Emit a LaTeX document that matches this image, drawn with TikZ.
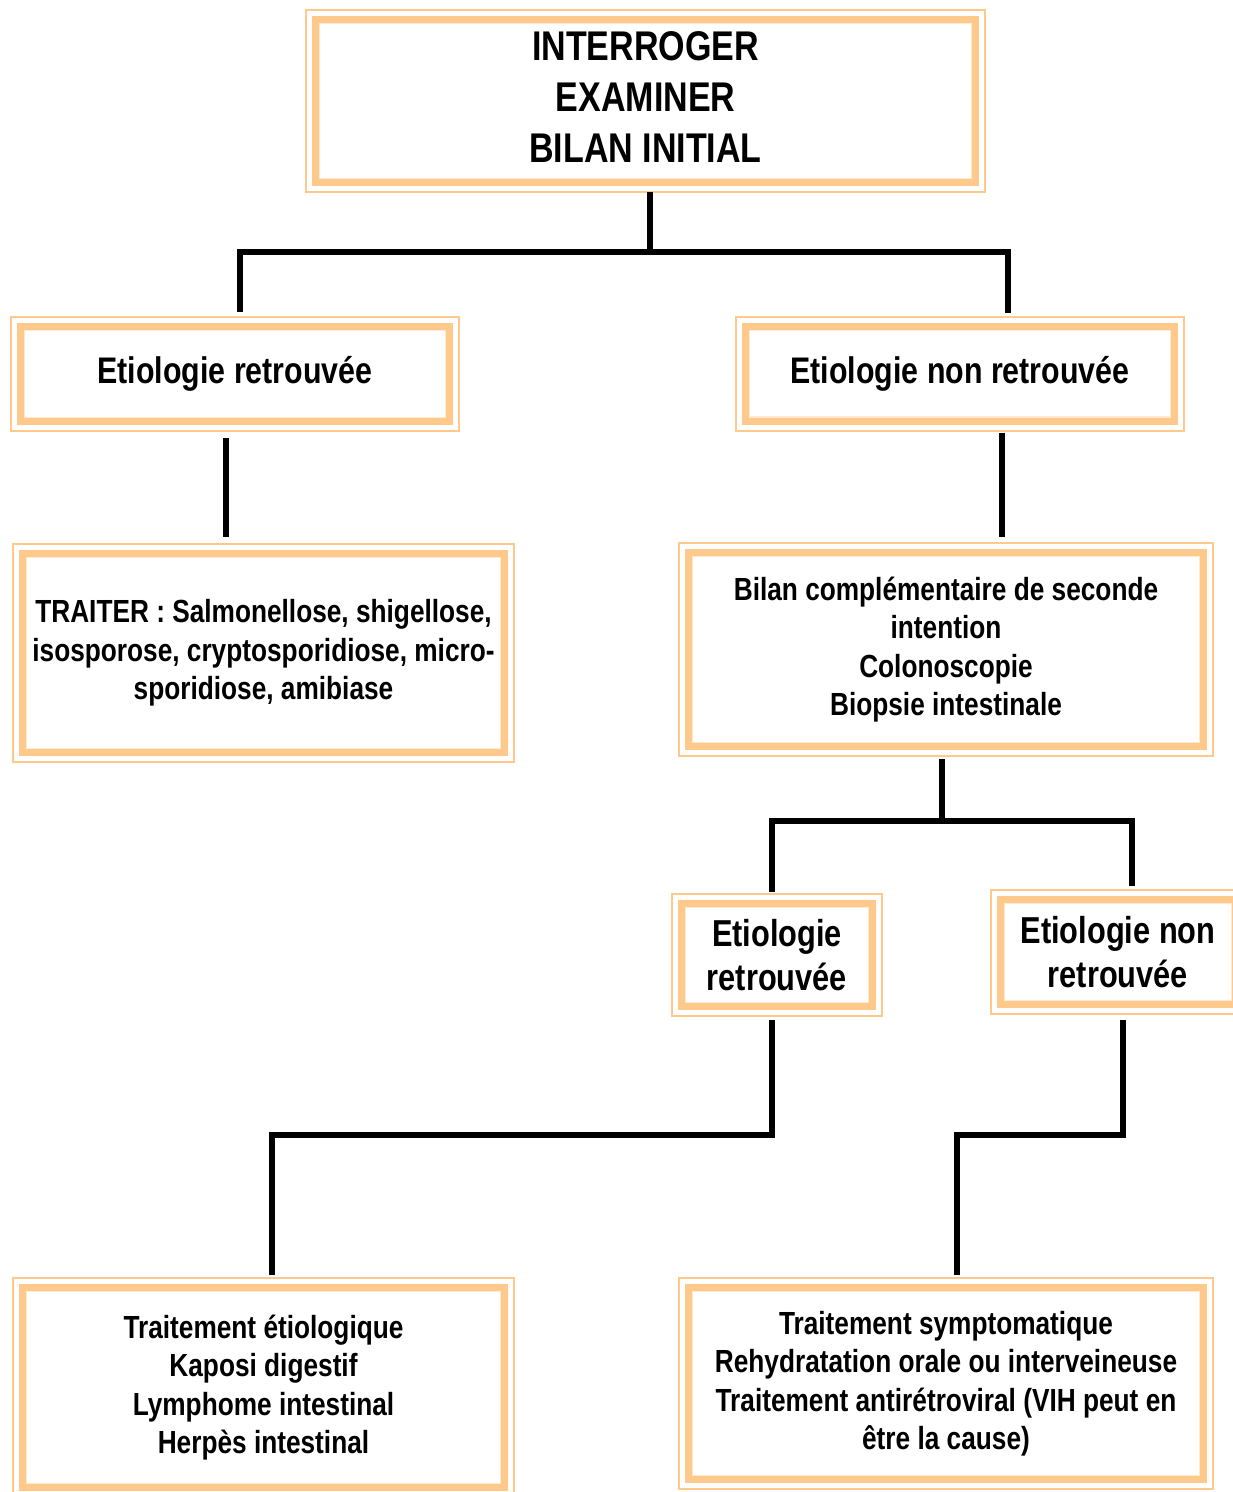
\documentclass[tikz,border=0pt]{standalone}
\usepackage{fontspec}
\setmainfont{Liberation Sans}[FakeStretch=0.82]
\definecolor{boxc}{HTML}{FFC98C}
\definecolor{boxpale}{HTML}{FFEBD2}
\tikzset{
  box/.style={draw=boxc, line width=2pt, rectangle, outer sep=0pt, inner sep=0pt, align=center, font=\bfseries},
  conn/.style={draw=black, line width=6pt, line join=miter},
  big/.style={font=\bfseries\fontsize{41.5}{51}\selectfont},
  mid/.style={font=\bfseries\fontsize{37}{44}\selectfont},
  tall/.style={font=\bfseries\fontsize{37.5}{44.5}\selectfont},
  small/.style={font=\bfseries\fontsize{32}{38.5}\selectfont},
}
\begin{document}
\begin{tikzpicture}[x=1pt,y=-1pt]
\clip (0,0) rectangle (1233,1492);
\fill[white] (0,0) rectangle (1233,1492);

\node[box,      minimum width=679pt, minimum height=182pt] (b1) at (645.5,101)  {};
\node[big, align=center, inner sep=0pt] (b1t) at (645.5,97) {INTERROGER\\EXAMINER\\BILAN INITIAL};
\node[box,mid,  minimum width=448pt, minimum height=114pt] (b2) at (235,374)    {Etiologie retrouvée};
\node[box,mid,  minimum width=448pt, minimum height=114pt] (b3) at (960,373.5)  {Etiologie non retrouvée};
\node[box,small,minimum width=501pt, minimum height=218pt] (b4) at (263.5,653)  {TRAITER : Salmonellose, shigellose,\\isosporose, cryptosporidiose, micro-\\sporidiose, amibiase};
\node[box,small,minimum width=534pt, minimum height=213pt] (b5) at (946,649.5)  {Bilan complémentaire de seconde\\intention\\Colonoscopie\\Biopsie intestinale};
\node[box,tall, minimum width=210pt, minimum height=122pt] (b6) at (777,955)    {Etiologie\\retrouvée};
\node[box,tall, minimum width=254pt, minimum height=124pt] (b7) at (1118,952)   {Etiologie non\\retrouvée};
\node[box,small,minimum width=501pt, minimum height=219pt] (b8) at (263.5,1387.5) {Traitement étiologique\\Kaposi digestif\\Lymphome intestinal\\Herpès intestinal};
\node[box,small,minimum width=534pt, minimum height=211pt] (b9) at (946,1383.5) {Traitement symptomatique\\Rehydratation orale ou interveineuse\\Traitement antirétroviral (VIH peut en\\être la cause)};

\foreach \n in {b1,b2,b3,b4,b5,b6,b7,b8,b9}{
  \draw[boxc, line width=7pt] ([xshift=9.5pt,yshift=-9.5pt]\n.north west) rectangle ([xshift=-9.5pt,yshift=9.5pt]\n.south east);
  \draw[boxpale, line width=1.2pt] ([xshift=13.6pt,yshift=-13.6pt]\n.north west) rectangle ([xshift=-13.6pt,yshift=13.6pt]\n.south east);
}

% connectors
\draw[conn] ([xshift=4.5pt]b1.south) -- ++(0,60) -| ([xshift=5pt,yshift=5pt]b2.north);
\draw[conn] ([xshift=4.5pt]b1.south) -- ++(0,60) -| ([xshift=48pt,yshift=4pt]b3.north);
\draw[conn] ([xshift=-9pt,yshift=-7pt]b2.south) -- ([xshift=-37.5pt,yshift=7pt]b4.north);
\draw[conn] ([xshift=42pt,yshift=-2pt]b3.south) -- ([xshift=56pt,yshift=6pt]b5.north);
\draw[conn] ([xshift=-4pt,yshift=-3pt]b5.south) -- ++(0,62) -| ([xshift=-5pt,yshift=2pt]b6.north);
\draw[conn] ([xshift=-4pt,yshift=-3pt]b5.south) -- ++(0,62) -| ([xshift=14pt,yshift=4pt]b7.north);
\draw[conn] ([xshift=-5pt,yshift=-4pt]b6.south) -- ++(0,115) -| ([xshift=8.5pt,yshift=3pt]b8.north);
\draw[conn] ([xshift=5pt,yshift=-6pt]b7.south) -- ++(0,115) -| ([xshift=11pt,yshift=3pt]b9.north);
\end{tikzpicture}
\end{document}
